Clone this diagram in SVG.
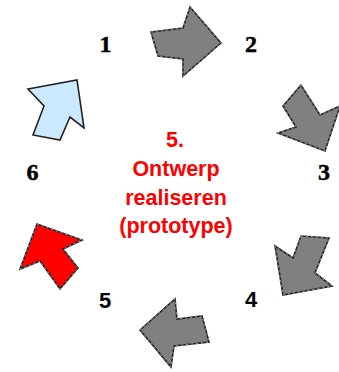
<svg xmlns="http://www.w3.org/2000/svg" width="339" height="372" viewBox="0 0 339 372">
<style>
.arr{stroke:#222;stroke-width:1.6;stroke-linejoin:miter}
.dash{fill:none;stroke:#9cc8d8;stroke-width:0.8;stroke-dasharray:2 3}
.gray{fill:#808080}
.num{font-family:"Liberation Serif",serif;font-weight:bold;font-size:24px;fill:#000;text-anchor:middle;stroke:#000;stroke-width:0.5}
.nums{font-family:"Liberation Sans",sans-serif;font-weight:bold;font-size:22px;fill:#000;text-anchor:middle}
.lbl{font-family:"Liberation Sans",Arial,sans-serif;font-weight:bold;font-size:21.5px;fill:#ff0000;text-anchor:middle}
</style>
<rect width="339" height="372" fill="#fff"/>
<g id="step1">
<polygon class="arr" fill="#cce8ff" points="28,89 77,80 84,128 70,117 60,140 33,135 44,106"/>
<text class="num" x="105.5" y="52">1</text>
</g>
<g id="step2">
<polygon class="arr gray" points="151,32 183,28 190,7 221,43 183,76 183,59 158,56"/>
<polygon class="dash" points="151,32 183,28 190,7 221,43 183,76 183,59 158,56"/>
<text class="num" x="251" y="52">2</text>
</g>
<g id="step3">
<polygon class="arr gray" points="301,85 283,106 296,127 278,133 325,151 340,106 320,115"/>
<polygon class="dash" points="301,85 283,106 296,127 278,133 325,151 340,106 320,115"/>
<text class="num" x="324" y="180">3</text>
</g>
<g id="step4">
<polygon class="arr gray" points="301,236 329,238 315,273 332,286 283,295 275,246 293,258"/>
<polygon class="dash" points="301,236 329,238 315,273 332,286 283,295 275,246 293,258"/>
<text class="nums" x="251" y="307">4</text>
</g>
<g id="step5">
<polygon class="arr gray" points="140,330 175,299 177,319 202,316 209,342 174,346 171,367"/>
<polygon class="dash" points="140,330 175,299 177,319 202,316 209,342 174,346 171,367"/>
<text class="nums" x="105" y="308">5</text>
</g>
<g id="step6">
<polygon class="arr" fill="#ff0000" points="37,224 82,240 63,249 78,268 60,289 40,261 20,269"/>
<polygon class="dash" points="37,224 82,240 63,249 78,268 60,289 40,261 20,269"/>
<text class="num" x="32.5" y="180">6</text>
</g>
<g id="center">
<text class="lbl" x="175" y="147">5.</text>
<text class="lbl" x="176" y="176">Ontwerp</text>
<text class="lbl" x="176" y="205">realiseren</text>
<text class="lbl" x="176" y="233">(prototype)</text>
</g>
<g id="connectors"></g>
</svg>
